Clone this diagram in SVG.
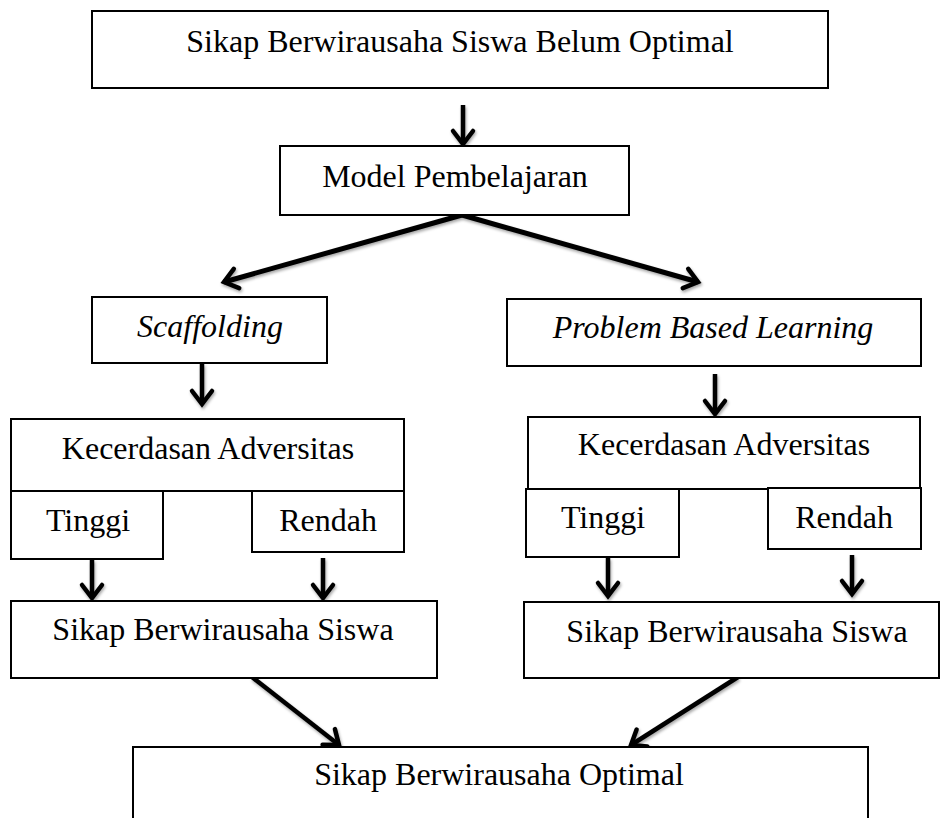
<svg xmlns="http://www.w3.org/2000/svg" width="941" height="818" viewBox="0 0 941 818">
<style>
.box{fill:#fff;stroke:#000;stroke-width:2}
.t{font-family:"Liberation Serif","Times New Roman",serif;font-size:32px;fill:#000;text-anchor:middle}
.i{font-style:italic}
.c{fill:none;stroke:#000;stroke-width:4.5;marker-end:url(#ah)}
</style>
<defs>
<marker id="ah" markerUnits="userSpaceOnUse" markerWidth="40" markerHeight="40" refX="0" refY="0" orient="auto" overflow="visible">
<path d="M -13 -10 L 0 0 L -13 10" fill="none" stroke="#000" stroke-width="4.5" stroke-linecap="round" stroke-linejoin="miter"/>
</marker>
<filter id="sh" x="-20%" y="-20%" width="140%" height="140%">
<feDropShadow dx="1" dy="2" stdDeviation="1.5" flood-color="#000" flood-opacity="0.35"/>
</filter>
</defs>
<rect width="941" height="818" fill="#fff"/>

<g id="connectors" filter="url(#sh)">
<line class="c" x1="463" y1="105" x2="463" y2="144"/>
<line class="c" x1="462" y1="215" x2="224" y2="282" style="stroke-width:5"/>
<line class="c" x1="462" y1="215" x2="698" y2="282" style="stroke-width:5"/>
<line class="c" x1="202" y1="364" x2="202" y2="404"/>
<line class="c" x1="715" y1="374" x2="715" y2="414"/>
<line class="c" x1="92" y1="560" x2="92" y2="598"/>
<line class="c" x1="323" y1="558" x2="323" y2="598"/>
<line class="c" x1="608" y1="558" x2="608" y2="596"/>
<line class="c" x1="852" y1="555" x2="852" y2="594"/>
<line class="c" x1="252" y1="677" x2="339" y2="745"/>
<line class="c" x1="738" y1="677" x2="631" y2="745"/>
</g>

<g id="n-top">
<rect class="box" x="92" y="11" width="736" height="77"/>
<text class="t" x="460" y="52">Sikap Berwirausaha Siswa Belum Optimal</text>
</g>
<g id="n-model">
<rect class="box" x="280" y="146" width="349" height="69"/>
<text class="t" x="455" y="187">Model Pembelajaran</text>
</g>
<g id="n-scaffolding">
<rect class="box" x="92" y="297" width="235" height="66"/>
<text class="t i" x="210" y="337">Scaffolding</text>
</g>
<g id="n-pbl">
<rect class="box" x="507" y="299" width="414" height="67"/>
<text class="t i" x="713" y="338">Problem Based Learning</text>
</g>

<g id="n-kecerdasan-l">
<rect class="box" x="11" y="419" width="393" height="72"/>
<text class="t" x="208" y="459">Kecerdasan Adversitas</text>
</g>
<g id="n-tinggi-l">
<rect class="box" x="11" y="491" width="152" height="68"/>
<text class="t" x="88" y="531">Tinggi</text>
</g>
<g id="n-rendah-l">
<rect class="box" x="252" y="491" width="152" height="61"/>
<text class="t" x="328" y="531">Rendah</text>
</g>

<g id="n-kecerdasan-r">
<rect class="box" x="528" y="417" width="392" height="72"/>
<text class="t" x="724" y="455">Kecerdasan Adversitas</text>
</g>
<g id="n-tinggi-r">
<rect class="box" x="526" y="489" width="153" height="68"/>
<text class="t" x="603" y="528">Tinggi</text>
</g>
<g id="n-rendah-r">
<rect class="box" x="768" y="488" width="153" height="61"/>
<text class="t" x="844" y="528">Rendah</text>
</g>

<g id="n-sikap-l">
<rect class="box" x="11" y="601" width="426" height="77"/>
<text class="t" x="223" y="640">Sikap Berwirausaha Siswa</text>
</g>
<g id="n-sikap-r">
<rect class="box" x="524" y="602" width="415" height="76"/>
<text class="t" x="737" y="642">Sikap Berwirausaha Siswa</text>
</g>

<g id="n-optimal">
<rect class="box" x="133" y="747" width="735" height="90"/>
<text class="t" x="499" y="785">Sikap Berwirausaha Optimal</text>
</g>
</svg>
